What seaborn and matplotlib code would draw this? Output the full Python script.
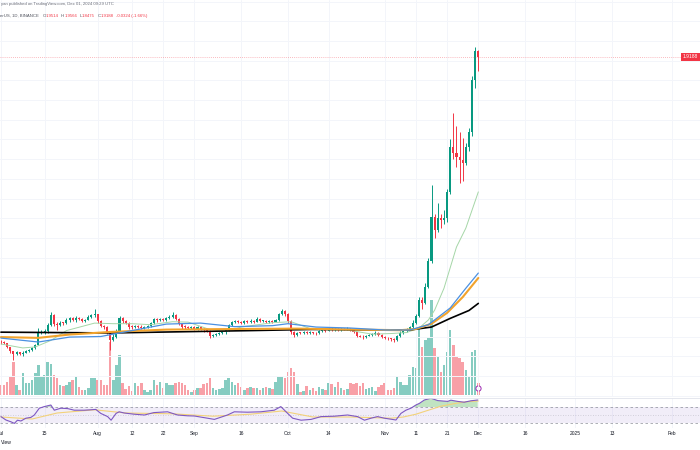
import numpy as np
import pandas as pd
import matplotlib
matplotlib.use('agg')
import matplotlib.pyplot as plt
import matplotlib.transforms as mtransforms
import seaborn as sns

# XRP / TetherUS daily candles, 1 Jul - 1 Dec 2024
first_open = 0.473
close = [
    # Jul
    0.470, 0.466, 0.445, 0.425, 0.412, 0.420, 0.410, 0.418, 0.425, 0.430,
    0.440, 0.458, 0.520, 0.525, 0.530, 0.560, 0.610, 0.565, 0.558, 0.570,
    0.568, 0.585, 0.592, 0.583, 0.595, 0.588, 0.580, 0.585, 0.600, 0.607,
    0.612,
    # Aug
    0.580, 0.555, 0.548, 0.520, 0.480, 0.500, 0.530, 0.595, 0.580, 0.570,
    0.550, 0.548, 0.553, 0.550, 0.545, 0.548, 0.552, 0.568, 0.588, 0.583,
    0.590, 0.585, 0.592, 0.600, 0.610, 0.590, 0.565, 0.550, 0.548, 0.545,
    0.548,
    # Sep
    0.540, 0.547, 0.538, 0.535, 0.528, 0.505, 0.510, 0.515, 0.520, 0.522,
    0.535, 0.560, 0.572, 0.578, 0.574, 0.570, 0.578, 0.575, 0.580, 0.576,
    0.590, 0.578, 0.580, 0.575, 0.578, 0.575, 0.585, 0.615, 0.630, 0.615,
    # Oct
    0.580, 0.525, 0.510, 0.520, 0.518, 0.522, 0.519, 0.521, 0.518, 0.516,
    0.527, 0.532, 0.530, 0.540, 0.535, 0.538, 0.535, 0.537, 0.536, 0.540,
    0.533, 0.522, 0.505, 0.500, 0.495, 0.505, 0.510, 0.515, 0.520, 0.510,
    0.500,
    # Nov
    0.492, 0.490, 0.485, 0.482, 0.505, 0.520, 0.530, 0.538, 0.550, 0.570,
    0.605, 0.685, 0.672, 0.750, 0.885, 1.106, 1.040, 1.100, 1.090, 1.100,
    1.233, 1.462, 1.430, 1.410, 1.395, 1.380, 1.460, 1.540, 1.800, 1.951,
    # Dec
    1.9188,
]
high = [
    0.480, 0.476, 0.468, 0.447, 0.428, 0.424, 0.423, 0.424, 0.430, 0.436,
    0.448, 0.462, 0.545, 0.535, 0.540, 0.570, 0.625, 0.615, 0.575, 0.578,
    0.575, 0.592, 0.600, 0.598, 0.602, 0.600, 0.595, 0.590, 0.610, 0.615,
    0.640,
    0.615, 0.585, 0.560, 0.553, 0.525, 0.512, 0.540, 0.605, 0.600, 0.585,
    0.575, 0.558, 0.560, 0.560, 0.558, 0.555, 0.556, 0.575, 0.595, 0.595,
    0.596, 0.594, 0.598, 0.608, 0.625, 0.612, 0.594, 0.568, 0.558, 0.552,
    0.553,
    0.551, 0.552, 0.552, 0.543, 0.540, 0.533, 0.515, 0.520, 0.525, 0.528,
    0.540, 0.565, 0.578, 0.583, 0.582, 0.578, 0.584, 0.585, 0.588, 0.585,
    0.600, 0.592, 0.586, 0.584, 0.585, 0.583, 0.590, 0.620, 0.640, 0.635,
    0.620, 0.585, 0.530, 0.525, 0.524, 0.526, 0.530, 0.526, 0.525, 0.523,
    0.532, 0.536, 0.536, 0.546, 0.548, 0.545, 0.542, 0.543, 0.541, 0.546,
    0.545, 0.536, 0.525, 0.510, 0.506, 0.510, 0.515, 0.520, 0.527, 0.522,
    0.513,
    0.504, 0.497, 0.493, 0.490, 0.510, 0.528, 0.535, 0.545, 0.555, 0.582,
    0.615, 0.700, 0.700, 0.770, 0.900, 1.270, 1.120, 1.180, 1.120, 1.140,
    1.250, 1.500, 1.634, 1.570, 1.540, 1.510, 1.480, 1.560, 1.820, 1.970,
    1.9566,
]
low = [
    0.462, 0.460, 0.440, 0.415, 0.380, 0.405, 0.405, 0.400, 0.414, 0.420,
    0.425, 0.437, 0.455, 0.512, 0.515, 0.520, 0.555, 0.555, 0.535, 0.553,
    0.556, 0.565, 0.575, 0.577, 0.575, 0.582, 0.573, 0.575, 0.583, 0.595,
    0.600,
    0.570, 0.548, 0.538, 0.512, 0.430, 0.476, 0.493, 0.525, 0.570, 0.562,
    0.540, 0.538, 0.543, 0.541, 0.538, 0.537, 0.544, 0.548, 0.563, 0.575,
    0.578, 0.578, 0.580, 0.588, 0.596, 0.584, 0.558, 0.540, 0.540, 0.537,
    0.540,
    0.533, 0.534, 0.533, 0.522, 0.522, 0.490, 0.500, 0.505, 0.510, 0.513,
    0.515, 0.530, 0.555, 0.566, 0.566, 0.562, 0.565, 0.566, 0.571, 0.570,
    0.574, 0.572, 0.572, 0.568, 0.570, 0.568, 0.572, 0.580, 0.610, 0.605,
    0.570, 0.515, 0.500, 0.505, 0.512, 0.513, 0.513, 0.514, 0.512, 0.508,
    0.512, 0.522, 0.524, 0.526, 0.528, 0.530, 0.528, 0.530, 0.531, 0.532,
    0.528, 0.516, 0.498, 0.495, 0.485, 0.492, 0.502, 0.505, 0.510, 0.505,
    0.494,
    0.485, 0.483, 0.476, 0.474, 0.478, 0.500, 0.514, 0.525, 0.534, 0.545,
    0.565, 0.600, 0.640, 0.665, 0.745, 0.875, 1.000, 1.030, 1.050, 1.070,
    1.080, 1.225, 1.400, 1.360, 1.280, 1.290, 1.370, 1.440, 1.520, 1.760,
    1.8475,
]
# volume, relative units (x20M)
volume = [
    10, 10, 13, 18, 33, 10, 5, 22, 12, 12, 15, 22, 30, 18, 20, 33, 31, 20, 17, 10,
    9, 10, 13, 15, 18, 8, 5, 5, 7, 17, 17, 15, 15, 10, 10, 53, 15, 30, 40, 12,
    6, 9, 4, 12, 9,
    12, 5, 3, 5, 15, 10, 13, 7, 12, 10, 10, 12, 13, 12, 10, 5, 3, 5, 7, 7,
    11, 12, 17, 7, 5, 6, 7, 15, 17, 13, 10, 12, 8, 5, 7, 8, 7, 7, 5, 7,
    8, 7, 6, 13, 18,
    18, 17, 23, 27, 23, 11, 3, 4, 9, 5, 7, 4, 8, 6, 5, 12, 11, 8, 13, 7,
    5, 6, 12, 11, 12, 9, 12, 6, 7, 8, 4, 8, 10, 12, 5, 5, 7, 18, 13, 10,
    10,
    20, 28, 27, 68, 48, 55, 57, 95, 47, 38, 23, 30, 43, 65, 50, 38, 37, 33, 25, 18,
    43, 45, 12,
]

# moving averages, sampled along the drawn lines (day index, price)
ma_green_day = [0, 7, 11, 16, 21, 30, 36, 42, 48, 55, 60, 67, 72, 77, 87, 93, 100,
                111, 119, 125, 130, 134, 137, 139, 142, 146, 149, 153]
ma_green = [0.462, 0.442, 0.447, 0.480, 0.530, 0.568, 0.565, 0.565, 0.560, 0.575,
            0.573, 0.535, 0.525, 0.548, 0.570, 0.575, 0.535, 0.533, 0.512, 0.515,
            0.520, 0.543, 0.584, 0.634, 0.745, 0.954, 1.050, 1.234]
ma_blue_day = [0, 12, 22, 32, 37, 43, 53, 64, 75, 87, 92, 101, 112, 123, 131, 137,
               144, 149, 153]
ma_blue = [0.492, 0.472, 0.497, 0.500, 0.515, 0.533, 0.563, 0.568, 0.550, 0.555,
           0.565, 0.548, 0.543, 0.533, 0.533, 0.560, 0.645, 0.745, 0.822]
ma_orange_day = [0, 12, 22, 35, 53, 75, 95, 115, 128, 133, 138, 143, 148, 153]
ma_orange = [0.497, 0.493, 0.510, 0.523, 0.535, 0.538, 0.540, 0.535, 0.532, 0.538,
             0.565, 0.620, 0.700, 0.797]
ma_black_day = [0, 35, 80, 100, 123, 131, 138, 144, 150, 153]
ma_black = [0.522, 0.518, 0.530, 0.536, 0.533, 0.533, 0.548, 0.592, 0.632, 0.668]

# RSI pane, sampled
rsi_day = [0, 1.6, 3.2, 4.3, 5.3, 6.4, 8, 9.6, 10.7, 12.3, 13.9, 16, 17.1, 19.2,
           21.4, 23.5, 26.7, 28.8, 30.4, 32, 34.2, 35.3, 36.9, 37.9, 39.5, 42.7,
           46, 49, 53.4, 56.6, 59.8, 62, 66.2, 68.4, 72.6, 74.8, 79, 83.3, 87.6,
           89.7, 91.9, 93.5, 96.2, 99.4, 102.6, 106.8, 111.1, 114.3, 116.5, 118.6,
           120.7, 122.9, 125, 126.6, 128.2, 129.8, 131.4, 133, 134.1, 135.7, 137.8,
           140, 143.2, 144.2, 146.4, 148.5, 150.6, 152.8]
rsi = [46, 37.5, 33, 29, 37, 35, 42, 44, 50, 67, 71, 75, 62, 67,
       66, 62, 62, 63, 64, 54, 46, 37, 54, 58, 55, 52,
       50, 56, 58, 50, 48, 47.5, 42, 39, 50, 58, 57, 58, 62,
       71, 54, 42, 37, 39, 46, 47, 50, 46, 37, 42,
       46, 42, 39.5, 37.5, 54, 62, 67, 75, 79, 87.5, 92,
       86, 84, 87, 84, 82, 85.5, 87.5]
rsi_ma_day = [0, 10, 18, 30, 40, 55, 68, 80, 90, 100, 112, 125, 129, 133, 137,
              141, 145, 149, 153]
rsi_ma = [45, 40, 55, 63, 55, 53, 47, 52, 60, 45, 45, 42, 45, 52, 62, 72, 78, 83, 85]

tick_days = [0, 14, 31, 42, 52, 62, 77, 92, 105, 123, 133, 143, 153, 168, 184, 196, 215]
tick_labels = ['Jul', '15', 'Aug', '12', '22', 'Sep', '16', 'Oct', '14', 'Nov',
               '11', '21', 'Dec', '16', '2025', '13', 'Feb']

last_price = 1.9188

df = pd.DataFrame({'close': close, 'high': high, 'low': low, 'volume': volume})
df['day'] = np.arange(len(df))
df['open'] = [first_open] + close[:-1]
df['up'] = df['close'] >= df['open']

UP, DOWN = '#089981', '#F23645'
candle_colors = np.where(df['up'], UP, DOWN)
vol_colors = np.where(df['up'], '#86ccc1', '#f8a0a7')

sns.set_theme(style='white')
plt.rcParams['font.family'] = ['Liberation Sans', 'DejaVu Sans']

W, H = 700, 450
fig = plt.figure(figsize=(7, 4.5), dpi=100)


def pane(top, bottom):
    return [0, 1 - bottom / H, 1, (bottom - top) / H]


ax_vol = fig.add_axes(pane(0, 397))
ax = fig.add_axes(pane(0, 397), sharex=ax_vol)
ax_rsi = fig.add_axes(pane(398, 428), sharex=ax_vol)
ax.patch.set_visible(False)

# volume
ax_vol.bar(df['day'], df['volume'], width=0.8, color=vol_colors, linewidth=0)
ax_vol.set_ylim(-2, 395)

# candles
ax.vlines(df['day'], df['low'], df['high'], colors=candle_colors, linewidth=0.7)
body = (df['close'] - df['open']).abs().clip(lower=0.004)
ax.bar(df['day'], body, bottom=np.minimum(df['open'], df['close']), width=0.66,
       color=candle_colors, linewidth=0)

# moving averages
sns.lineplot(x=ma_green_day, y=ma_green, ax=ax, color='#a5d6a7', linewidth=0.7)
sns.lineplot(x=ma_black_day, y=ma_black, ax=ax, color='#000000', linewidth=1.2)
sns.lineplot(x=ma_orange_day, y=ma_orange, ax=ax, color='#f2a32c', linewidth=1.5)
sns.lineplot(x=ma_blue_day, y=ma_blue, ax=ax, color='#4a90e2', linewidth=0.9)

ax.axhline(last_price, color=DOWN, linewidth=0.6, alpha=0.45, linestyle=(0, (1, 1.5)))
ax.set_ylim(0.1929, 2.2081)
ax.set_xlim(-0.3, 224.05)
ax.set_yticks(np.arange(0.2, 2.21, 0.1))
ax.grid(True, color='#f3f5fa', linewidth=0.7)

trans = mtransforms.blended_transform_factory(ax.transAxes, ax.transData)
ax.text(683 / W, last_price, '1.9188', transform=trans, ha='left', va='center',
        fontsize=3.6, color='white',
        bbox=dict(boxstyle='square,pad=0.35', fc=DOWN, ec='none'))
ax_vol.scatter([153], [7], s=14, facecolor='white', edgecolor='#9c27b0',
               linewidth=0.7, zorder=5)

# RSI pane
rsi_arr = np.array(rsi)
ax_rsi.axhspan(30, 70, color='#7e57c2', alpha=0.1, linewidth=0)
for lvl, ls, a in [(70, (0, (3, 3)), 0.7), (30, (0, (3, 3)), 0.7), (50, (0, (1, 2)), 0.35)]:
    ax_rsi.axhline(lvl, color='#787b86', linewidth=0.6, linestyle=ls, alpha=a)
ax_rsi.fill_between(rsi_day, 70, rsi_arr, where=rsi_arr > 70, interpolate=True,
                    color='#4caf50', alpha=0.35, linewidth=0)
sns.lineplot(x=rsi_ma_day, y=rsi_ma, ax=ax_rsi, color='#f3d27a', linewidth=0.8)
sns.lineplot(x=rsi_day, y=rsi, ax=ax_rsi, color='#7e57c2', linewidth=0.8)
ax_rsi.set_ylim(17.5, 92.5)
ax_rsi.set_xticks(tick_days, tick_labels)
ax_rsi.grid(True, axis='x', color='#f3f5fa', linewidth=0.7)

for a in (ax, ax_vol, ax_rsi):
    for s in a.spines.values():
        s.set_visible(False)
    a.tick_params(length=0, labelleft=False, labelbottom=False)
    a.set_xlabel('')
    a.set_ylabel('')
ax_vol.set_yticks([])
ax_rsi.spines['top'].set_visible(True)
ax_rsi.spines['top'].set_color('#e0e3eb')
ax_rsi.spines['top'].set_linewidth(0.6)
ax_rsi.tick_params(labelbottom=True, labelsize=3.5, pad=2.0, colors='#131722')

# header
fig.text(1 / W, 1 - 4.5 / H, 'yan published on TradingView.com, Dec 01, 2024 09:29 UTC',
         fontsize=3.1, color='#6a6d78', va='center', ha='left')
GRAY, RED = '#50535e', '#f23645'
pieces = [('erUS, 1D, BINANCE', GRAY), ('O', GRAY), ('1.9514', RED), ('H', GRAY),
          ('1.9566', RED), ('L', GRAY), ('1.8475', RED), ('C', GRAY), ('1.9188', RED),
          ('-0.0324 (-1.66%)', RED)]
gaps = [0, 2.5, 0, 1.8, 0, 1.8, 0, 1.8, 0, 1.8]
t = fig.text(0 / W, 1 - 17 / H, pieces[0][0], fontsize=3.1, color=pieces[0][1],
             va='baseline', ha='left')
for (s, c), g in zip(pieces[1:], gaps[1:]):
    t = ax.annotate(s, xy=(1, 0), xycoords=t, xytext=(g, 0), textcoords='offset points',
                    fontsize=3.1, color=c, va='bottom', ha='left')

fig.text(0.5 / W, 1 - 443 / H, 'View', fontsize=3.6, color='#131722',
         va='center', ha='left')

fig.savefig('out.png', dpi=100)
